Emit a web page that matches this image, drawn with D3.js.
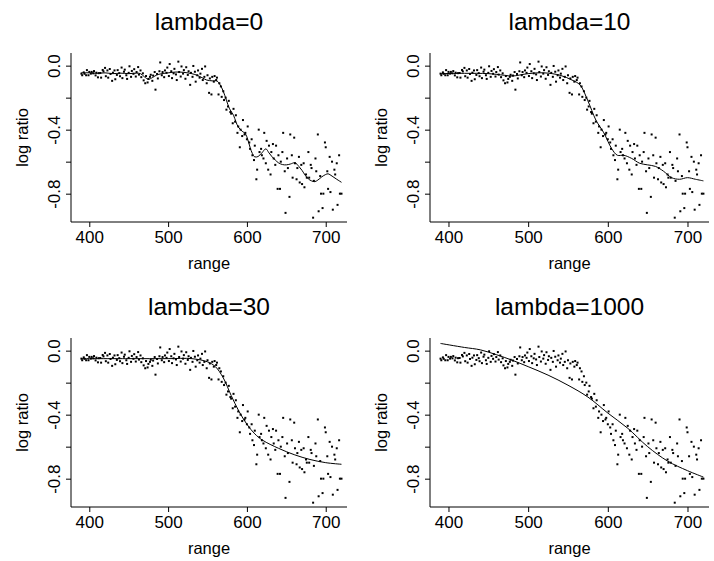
<!DOCTYPE html>
<html>
<head>
<meta charset="utf-8">
<script src="https://cdn.jsdelivr.net/npm/d3@7"></script>
<style>
  body { margin: 0; background: #fff; }
  svg { display: block; font-family: "Liberation Sans", Arial, sans-serif; }
</style>
</head>
<body>
<svg id="chart"></svg>
<script>
// lidar observations
const range = [390,391,393,394,396,397,399,400,402,403,405,406,408,409,411,412,414,415,417,418,
  420,421,423,424,426,427,429,430,432,433,435,436,438,439,441,442,444,445,447,448,
  450,451,453,454,456,457,459,460,462,463,465,466,468,469,471,472,474,475,477,478,
  480,481,483,484,486,487,489,490,492,493,495,496,498,499,501,502,504,505,507,508,
  510,511,513,514,516,517,519,520,522,523,525,526,528,529,531,532,534,535,537,538,
  540,541,543,544,546,547,549,550,552,553,555,556,558,559,561,562,564,565,567,568,
  570,571,573,574,576,577,579,580,582,583,585,586,588,589,591,592,594,595,597,598,
  600,601,603,604,606,607,609,610,612,613,615,616,618,619,621,622,624,625,627,628,
  630,631,633,634,636,637,639,640,642,643,645,646,648,649,651,652,654,655,657,658,
  660,661,663,664,666,667,669,670,672,673,675,676,678,679,681,682,684,685,687,688,
  690,691,693,694,696,697,699,700,702,703,705,706,708,709,711,712,714,715,717,718,720];

const logratio = [-0.050,-0.060,-0.042,-0.051,-0.060,-0.028,-0.060,-0.039,-0.050,-0.039,
  -0.048,-0.034,-0.061,-0.044,-0.073,-0.047,-0.046,-0.075,-0.027,-0.036,
  -0.014,-0.066,-0.030,-0.075,-0.021,-0.052,-0.095,-0.044,-0.030,-0.085,
  -0.058,-0.028,-0.047,-0.066,-0.012,-0.078,-0.038,-0.025,-0.060,-0.083,
  -0.045,-0.004,-0.070,-0.033,-0.051,-0.022,-0.068,-0.040,-0.009,-0.056,
  -0.030,-0.072,-0.048,-0.092,-0.110,-0.065,-0.105,-0.083,-0.070,-0.057,
  -0.095,-0.062,-0.040,-0.150,-0.052,-0.080,-0.035,0.020,-0.060,-0.040,
  -0.072,-0.030,-0.045,-0.012,-0.065,0.010,-0.035,-0.078,-0.048,-0.020,
  -0.055,-0.090,0.025,-0.040,-0.068,-0.005,-0.050,-0.028,-0.082,-0.010,
  -0.058,-0.035,-0.120,-0.045,-0.070,-0.002,-0.038,-0.100,-0.060,-0.030,
  -0.075,-0.050,-0.020,-0.090,-0.070,-0.005,-0.110,-0.060,-0.170,-0.080,
  -0.180,-0.070,-0.100,-0.065,-0.090,-0.075,-0.180,-0.110,-0.130,-0.195,
  -0.160,-0.215,-0.200,-0.275,-0.255,-0.220,-0.290,-0.300,-0.360,-0.270,
  -0.350,-0.310,-0.420,-0.380,-0.510,-0.400,-0.440,-0.340,-0.430,-0.420,
  -0.460,-0.380,-0.480,-0.520,-0.460,-0.560,-0.590,-0.500,-0.710,-0.650,
  -0.400,-0.540,-0.520,-0.560,-0.580,-0.420,-0.610,-0.470,-0.650,-0.500,
  -0.680,-0.540,-0.490,-0.580,-0.620,-0.500,-0.770,-0.560,-0.770,-0.600,
  -0.540,-0.420,-0.660,-0.920,-0.580,-0.640,-0.820,-0.430,-0.560,-0.700,
  -0.450,-0.610,-0.710,-0.640,-0.570,-0.730,-0.620,-0.740,-0.610,-0.760,
  -0.680,-0.700,-0.540,-0.700,-0.620,-0.640,-0.950,-0.720,-0.580,-0.660,
  -0.430,-0.910,-0.690,-0.800,-0.890,-0.800,-0.480,-0.510,-0.660,-0.770,
  -0.570,-0.790,-0.600,-0.900,-0.650,-0.680,-0.610,-0.870,-0.560,-0.800,-0.800];

// fitted curves
const fit0Range = [390,400,410,420,430,440,450,460,465,470,475,480,485,490,500,510,520,530,536,543,
  549,556,562,566,570,574,578,583,586,589,594,598,601,604,607,610,614,619,624,628,
  632,636,640,645,650,655,661,666,670,674,678,682,686,690,695,700,703,708,714,720];
const fit0Value = [-0.044,-0.045,-0.048,-0.045,-0.050,-0.047,-0.050,-0.047,-0.050,-0.070,
  -0.085,-0.075,-0.060,-0.052,-0.045,-0.040,-0.042,-0.050,-0.059,-0.075,
  -0.090,-0.095,-0.096,-0.120,-0.160,-0.216,-0.270,-0.310,-0.350,-0.383,
  -0.410,-0.425,-0.460,-0.510,-0.550,-0.570,-0.568,-0.545,-0.520,-0.545,
  -0.570,-0.590,-0.607,-0.618,-0.620,-0.615,-0.607,-0.630,-0.655,-0.685,
  -0.708,-0.720,-0.725,-0.715,-0.695,-0.680,-0.676,-0.690,-0.710,-0.729];

const fit10Range = [390,420,450,470,480,500,520,540,555,565,575,585,595,605,612,620,630,640,650,660,670,680,690,700,710,720];
const fit10Value = [-0.050,-0.048,-0.050,-0.060,-0.065,-0.050,-0.045,-0.060,-0.090,-0.120,-0.220,-0.340,-0.420,-0.520,-0.560,-0.560,
  -0.580,-0.610,-0.620,-0.630,-0.660,-0.700,-0.710,-0.700,-0.710,-0.720];

const fit30Range = [390,450,500,530,550,560,570,580,590,600,610,620,640,660,680,700,720];
const fit30Value = [-0.050,-0.050,-0.050,-0.050,-0.070,-0.100,-0.170,-0.280,-0.380,-0.460,-0.520,-0.560,-0.610,-0.650,-0.680,-0.700,-0.710];

const fit1000Range = [390,420,440,460,480,500,525,550,575,600,625,650,675,700,720];
const fit1000Value = [0.045,0.020,0.005,-0.025,-0.060,-0.100,-0.153,-0.216,-0.290,-0.390,-0.485,-0.600,-0.690,-0.750,-0.790];

const titles = ["lambda=0", "lambda=10", "lambda=30", "lambda=1000"];
const xTicks = [400, 500, 600, 700];
const yTicks = [0, -0.2, -0.4, -0.6, -0.8];
const yLabels = {"0": "0.0", "-0.4": "-0.4", "-0.8": "-0.8"};

const width = 714;
const height = 561;

const svg = d3.select("#chart")
              .attr("width", width)
              .attr("height", height)
              .style("background-color", "white");

const points = range.map((r, i) => ({x: r, y: logratio[i]}));
const fits = [
  fit0Range.map((r, i) => ({x: r, y: fit0Value[i]})),
  fit10Range.map((r, i) => ({x: r, y: fit10Value[i]})),
  fit30Range.map((r, i) => ({x: r, y: fit30Value[i]})),
  fit1000Range.map((r, i) => ({x: r, y: fit1000Value[i]}))
];

// plot regions for the 2x2 grid
const colLeft = [71, 430];
const colRight = [347, 709];
const rowTop = [53, 338];
const rowBottom = [222, 507];

function panel(k) {
  const col = k % 2, row = Math.floor(k / 2);
  const x = d3.scaleLinear().domain([376.8, 727]).range([colLeft[col], colRight[col]]);
  const y = d3.scaleLinear().domain([-0.977, 0.079]).range([rowBottom[row], rowTop[row]]);
  const g = svg.append("g");

  // title
  g.append("text")
   .attr("x", (colLeft[col] + colRight[col]) / 2)
   .attr("y", rowTop[row] - 23)
   .attr("text-anchor", "middle")
   .style("font-size", "24.5px")
   .text(titles[k]);

  // x axis (L shaped box)
  const xAxis = g.append("g")
                 .attr("transform", `translate(0,${rowBottom[row]})`)
                 .call(d3.axisBottom(x).tickValues(xTicks).tickSize(5).tickPadding(4).tickSizeOuter(0));
  xAxis.select(".domain").attr("d", `M${colLeft[col]},0H${colRight[col]}`);
  xAxis.selectAll("text").style("font-size", "17px").style("font-family", "Liberation Sans, Arial, sans-serif");

  const yAxis = g.append("g")
                 .attr("transform", `translate(${colLeft[col]},0)`)
                 .call(d3.axisLeft(y).tickValues(yTicks).tickSize(5).tickSizeOuter(0)
                         .tickFormat(d => yLabels[String(d)] || ""));
  yAxis.select(".domain").attr("d", `M0,${rowTop[row]}V${rowBottom[row]}`);
  // rotated tick labels, centred on each tick
  yAxis.selectAll(".tick text")
       .attr("x", 0)
       .attr("y", -11)
       .attr("dy", 0)
       .attr("transform", "rotate(-90)")
       .attr("text-anchor", "middle")
       .style("font-size", "17px")
       .style("font-family", "Liberation Sans, Arial, sans-serif");

  // axis titles
  g.append("text")
   .attr("x", (colLeft[col] + colRight[col]) / 2)
   .attr("y", rowBottom[row] + 47)
   .attr("text-anchor", "middle")
   .style("font-size", "16.5px")
   .text("range");
  g.append("text")
   .attr("transform", `translate(${colLeft[col] - 43},${(rowTop[row] + rowBottom[row]) / 2}) rotate(-90)`)
   .attr("text-anchor", "middle")
   .style("font-size", "16.5px")
   .text("log ratio");

  // data points
  g.append("g")
   .selectAll("rect")
   .data(points)
   .enter().append("rect")
           .attr("x", d => x(d.x) - 1)
           .attr("y", d => y(d.y) - 1)
           .attr("width", 2)
           .attr("height", 2)
           .attr("fill", "#000");

  // fitted line
  const line = d3.line().x(d => x(d.x)).y(d => y(d.y)).curve(d3.curveCatmullRom.alpha(0.5));
  g.append("path")
   .datum(fits[k])
   .attr("d", line)
   .attr("fill", "none")
   .attr("stroke", "#000")
   .attr("stroke-width", 1);
}

[0, 1, 2, 3].forEach(panel);
</script>
</body>
</html>
